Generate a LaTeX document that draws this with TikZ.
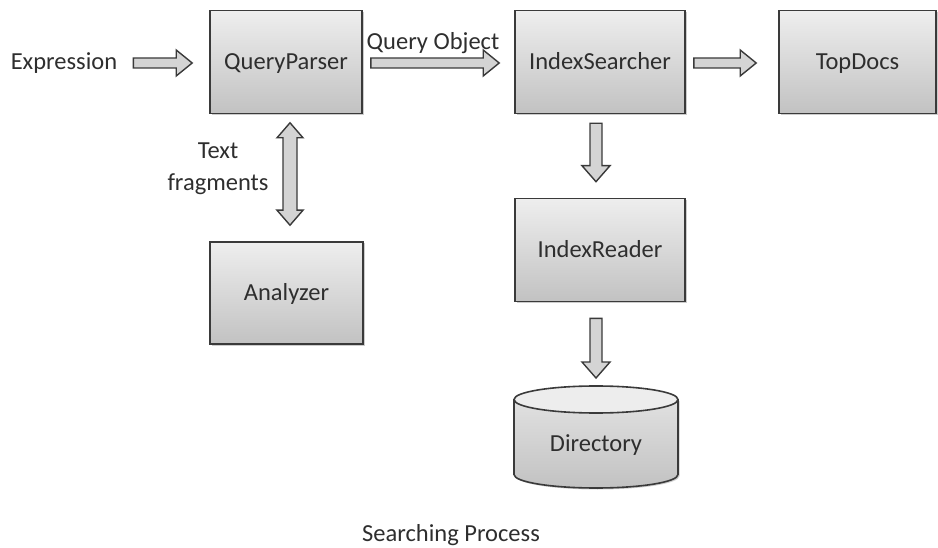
\documentclass[tikz,border=0pt]{standalone}
\usepackage{fontspec}
\setmainfont{Carlito}
\usetikzlibrary{calc,shadows}
\definecolor{bordc}{HTML}{3A3A3A}
\definecolor{txtc}{HTML}{2E2E2E}
\definecolor{arrfill}{HTML}{D4D4D4}
\definecolor{boxtop}{HTML}{EEEEEE}
\definecolor{boxbot}{HTML}{C2C2C2}
\definecolor{cyltop}{HTML}{EDEDED}
\tikzset{
  box/.style={draw=bordc, line width=1.6bp, top color=boxtop, bottom color=boxbot,
    text height=16bp, text depth=0bp,
    drop shadow={shadow xshift=1.5bp, shadow yshift=-1.5bp, fill=black, opacity=0.2}},
  lbl/.style={inner sep=0pt},
  barrow/.style={draw=bordc, fill=arrfill, line width=1.4bp, line join=miter},
}
\newcommand\myharr[2]{\draw[barrow] let \p1=(#1),\p2=(#2) in
  (\x1,\y1+5bp) -- (\x2-16bp,\y1+5bp) -- (\x2-16bp,\y1+13bp) -- (\x2,\y1)
  -- (\x2-16bp,\y1-13bp) -- (\x2-16bp,\y1-5bp) -- (\x1,\y1-5bp) -- cycle;}
\newcommand\myvarr[2]{\draw[barrow] let \p1=(#1),\p2=(#2) in
  (\x1-6bp,\y1) -- (\x1-6bp,\y2+16bp) -- (\x1-14bp,\y2+16bp) -- (\x1,\y2)
  -- (\x1+14bp,\y2+16bp) -- (\x1+6bp,\y2+16bp) -- (\x1+6bp,\y1) -- cycle;}
\newcommand\mydarr[2]{\draw[barrow] let \p1=(#1),\p2=(#2) in
  (\x1,\y1) -- (\x1+13bp,\y1-15bp) -- (\x1+7bp,\y1-15bp) -- (\x1+7bp,\y2+15bp)
  -- (\x1+13bp,\y2+15bp) -- (\x1,\y2) -- (\x1-13bp,\y2+15bp) -- (\x1-7bp,\y2+15bp)
  -- (\x1-7bp,\y1-15bp) -- (\x1-13bp,\y1-15bp) -- cycle;}
\begin{document}
\begin{tikzpicture}[x=1bp, y=1bp, font=\fontsize{24.5bp}{32bp}\selectfont, text=txtc]
\useasboundingbox (0,0) rectangle (938,-548);
% boxes
\node[box, minimum width=152bp, minimum height=103bp] (qp) at (286,-62) {QueryParser};
\node[box, minimum width=170bp, minimum height=103bp] (is) at (600,-62) {IndexSearcher};
\node[box, minimum width=157bp, minimum height=103bp] (td) at (857.5,-62) {TopDocs};
\node[box, minimum width=170bp, minimum height=103bp] (ir) at (600,-250) {IndexReader};
\node[box, minimum width=153bp, minimum height=102bp] (an) at (286.5,-293) {Analyzer};
% cylinder
\fill[black, opacity=0.2] (515.5,-401) -- (515.5,-476) arc[start angle=180,end angle=360,x radius=82bp,y radius=13.5bp] -- (679.5,-401) -- cycle;
\path[top color=boxtop!80!boxbot, bottom color=boxbot] (514,-399.5) -- (514,-474.5)
  arc[start angle=180,end angle=360,x radius=82bp,y radius=13.5bp] -- (678,-399.5)
  arc[start angle=0,end angle=180,x radius=82bp,y radius=13.5bp] -- cycle;
\draw[bordc, line width=1.6bp] (514,-399.5) -- (514,-474.5)
  arc[start angle=180,end angle=360,x radius=82bp,y radius=13.5bp] -- (678,-399.5);
\draw[bordc, line width=1.6bp, fill=cyltop] (596,-399.5) ellipse[x radius=82bp, y radius=13.5bp];
\node[lbl] (dir) at (596,-445) {Directory};
\coordinate (dirtop) at (596,-386);
% text labels
\node[lbl] (expr) at (64,-63) {Expression};
\node[lbl] (qo) at (433,-43) {Query Object};
\node[lbl, align=center] (tf) at (218,-169) {Text\\fragments};
\node[lbl] (sp) at (451,-535) {Searching Process};
% arrow end points
\coordinate (a1s) at ($(expr.east)+(16,0)$);
\coordinate (a1e) at ($(qp.west)+(-17,-1)$);
\coordinate (a2s) at ($(qp.east)+(8,-1)$);
\coordinate (a2e) at ($(is.west)+(-15,-1)$);
\coordinate (a3s) at ($(is.east)+(8,-1)$);
\coordinate (a3e) at ($(td.west)+(-22,-1)$);
\coordinate (v1s) at ($(is.south)+(-4,-9)$);
\coordinate (v1e) at ($(ir.north)+(-4,16)$);
\coordinate (v2s) at ($(ir.south)+(-4,-16)$);
\coordinate (v2e) at ($(dirtop)+(0,8)$);
\coordinate (d1) at ($(qp.south)+(4,-8.5)$);
\coordinate (d2) at ($(an.north)+(3.5,16)$);
% arrows
\myharr{a1s}{a1e}
\myharr{a2s}{a2e}
\myharr{a3s}{a3e}
\myvarr{v1s}{v1e}
\myvarr{v2s}{v2e}
\mydarr{d1}{d2}
\end{tikzpicture}
\end{document}
